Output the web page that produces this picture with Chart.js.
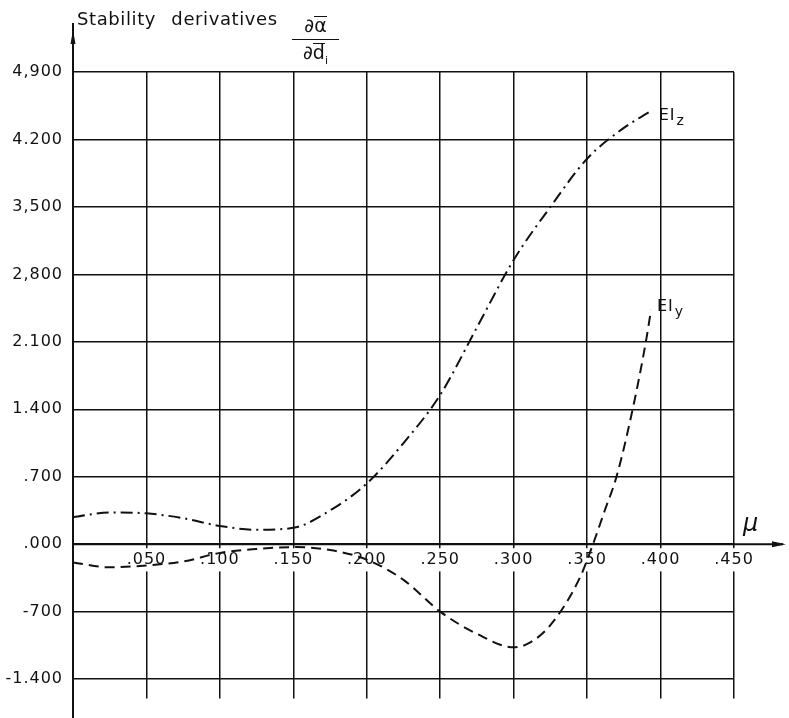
<!DOCTYPE html>
<html>
<head>
<meta charset="utf-8">
<script src="https://cdn.jsdelivr.net/npm/chart.js@4.4.1/dist/chart.umd.min.js"></script>
<style>
  body { margin: 0; background: #fff; }
  #wrap { position: relative; width: 789px; height: 718px; overflow: hidden; }
  #chart { position: absolute; left: 0; top: 0; }
  .txt { position: absolute; color: #111; font-family: 'DejaVu Sans', sans-serif; white-space: nowrap; }
  #title { left: 77px; top: 10px; font-size: 18px; line-height: 18px; letter-spacing: 0.6px; word-spacing: 9px; }
  #frac { left: 292px; top: 11px; width: 47px; text-align: center; font-size: 19px; }
  #frac .num { height: 28px; line-height: 28px; }
  #frac .den { border-top: 1.5px solid #111; height: 24px; line-height: 24px; }
  #frac .ov { display: inline-block; border-top: 1.4px solid #111; line-height: 16px; }
  #frac sub { font-size: 11px; }
  #mu { left: 743px; top: 511px; font-size: 24px; line-height: 24px; font-style: oblique; }
</style>
</head>
<body>
<div id="wrap">
  <canvas id="chart" width="789" height="718"></canvas>
  <div class="txt" id="title">Stability derivatives</div>
  <div class="txt" id="frac">
    <div class="num">∂<span class="ov">α</span></div>
    <div class="den">∂<span class="ov">d</span><sub>i</sub></div>
  </div>
  <div class="txt" id="mu">μ</div>
</div>
<script>
// EIz curve (dash-dot)
const muEIz = [0, 0.025, 0.05, 0.075, 0.1, 0.125, 0.15, 0.175, 0.2, 0.225, 0.25, 0.275, 0.3, 0.325, 0.35, 0.375, 0.394];
const valEIz = [0.28, 0.33, 0.32, 0.27, 0.19, 0.15, 0.17, 0.35, 0.63, 1.05, 1.55, 2.25, 2.95, 3.5, 4.0, 4.32, 4.5];

// EIy curve (dashed)
const muEIy = [0, 0.025, 0.05, 0.075, 0.1, 0.125, 0.15, 0.175, 0.2, 0.225, 0.25, 0.275, 0.3, 0.31, 0.325, 0.345, 0.354, 0.362, 0.37, 0.381, 0.39, 0.3935];
const valEIy = [-0.19, -0.24, -0.22, -0.18, -0.09, -0.05, -0.03, -0.06, -0.16, -0.37, -0.7, -0.93, -1.07, -1.03, -0.84, -0.35, 0, 0.35, 0.7, 1.4, 2.1, 2.43];

const xTicks = [0, 0.05, 0.1, 0.15, 0.2, 0.25, 0.3, 0.35, 0.4, 0.45];
const xTickLabels = ['', '.050', '.100', '.150', '.200', '.250', '.300', '.350', '.400', '.450'];
const yTicks = [-1.4, -0.7, 0, 0.7, 1.4, 2.1, 2.8, 3.5, 4.2, 4.9];
const yTickLabels = ['-1.400', '-700', '.000', '.700', '1.400', '2.100', '2,800', '3,500', '4.200', '4,900'];

function toPoints(xs, ys) {
    return xs.map((x, i) => ({ x: x, y: ys[i] }));
}

const ink = '#111';

// slightly wider lettering like the stencil text in the original
const spacing = {
    id: 'spacing',
    beforeLayout(chart) {
        chart.ctx.letterSpacing = '1px';
    }
};

// axis extensions with arrows, and the curve end labels
const extras = {
    id: 'extras',
    afterDraw(chart) {
        const { ctx, scales: { x, y } } = chart;
        const x0 = x.getPixelForValue(0);
        const y0 = y.getPixelForValue(0);
        ctx.save();
        ctx.strokeStyle = ink;
        ctx.fillStyle = ink;
        ctx.lineWidth = 2;

        ctx.beginPath();
        ctx.moveTo(x0, 23);
        ctx.lineTo(x0, chart.height);
        ctx.moveTo(x0, y0);
        ctx.lineTo(chart.width - 6, y0);
        ctx.stroke();

        ctx.beginPath();
        ctx.moveTo(x0, 30);
        ctx.lineTo(x0 - 2.5, 44);
        ctx.lineTo(x0 + 2.5, 44);
        ctx.closePath();
        ctx.fill();

        ctx.beginPath();
        ctx.moveTo(chart.width - 3, y0);
        ctx.lineTo(chart.width - 17, y0 - 3);
        ctx.lineTo(chart.width - 17, y0 + 3);
        ctx.closePath();
        ctx.fill();

        chart.data.datasets.forEach((ds, i) => {
            const pts = chart.getDatasetMeta(i).data;
            const last = pts[pts.length - 1];
            const lab = ds.endLabel;
            const tx = last.x + lab.dx;
            const ty = last.y + lab.dy;
            ctx.textBaseline = 'alphabetic';
            ctx.textAlign = 'left';
            ctx.font = '16px "DejaVu Sans"';
            ctx.fillText('EI', tx, ty);
            const w = ctx.measureText('EI').width;
            ctx.font = '14px "DejaVu Sans"';
            ctx.fillText(lab.sub, tx + w + 1, ty + 5);
        });
        ctx.restore();
    }
};

new Chart(document.getElementById('chart'), {
    type: 'line',
    data: {
        datasets: [
            {
                label: 'EIz',
                data: toPoints(muEIz, valEIz),
                borderColor: ink,
                borderWidth: 2,
                borderDash: [12, 5, 2, 5],
                pointRadius: 0,
                fill: false,
                cubicInterpolationMode: 'monotone',
                endLabel: { sub: 'z', dx: 7, dy: 9 }
            },
            {
                label: 'EIy',
                data: toPoints(muEIy, valEIy),
                borderColor: ink,
                borderWidth: 2,
                borderDash: [10, 6],
                pointRadius: 0,
                fill: false,
                cubicInterpolationMode: 'monotone',
                endLabel: { sub: 'y', dx: 6, dy: 1 }
            }
        ]
    },
    options: {
        responsive: false,
        animation: false,
        layout: { padding: { left: 0, top: 72, right: 55, bottom: 14 } },
        plugins: {
            legend: { display: false },
            tooltip: { enabled: false }
        },
        scales: {
            x: {
                type: 'linear',
                position: { y: 0 },
                min: 0,
                max: 0.45,
                afterFit: scale => { scale.height = 0; },
                afterBuildTicks: scale => { scale.ticks = xTicks.map(v => ({ value: v })); },
                grid: { color: ink, lineWidth: 1.5, drawTicks: false },
                border: { display: true, color: ink, width: 2 },
                ticks: {
                    padding: 6,
                    autoSkip: false,
                    maxRotation: 0,
                    color: ink,
                    font: { family: 'DejaVu Sans', size: 16 },
                    showLabelBackdrop: true,
                    backdropColor: '#fff',
                    backdropPadding: 2,
                    callback: (value, index) => xTickLabels[index]
                }
            },
            y: {
                type: 'linear',
                min: -1.6,
                max: 4.9,
                afterFit: scale => { scale.width = 73; },
                afterBuildTicks: scale => { scale.ticks = yTicks.map(v => ({ value: v })); },
                grid: { color: ink, lineWidth: 1.5, drawTicks: false },
                border: { display: true, color: ink, width: 2 },
                ticks: {
                    padding: 10,
                    autoSkip: false,
                    color: ink,
                    font: { family: 'DejaVu Sans', size: 16 },
                    callback: (value, index) => yTickLabels[index]
                }
            }
        }
    },
    plugins: [spacing, extras]
});
</script>
</body>
</html>
